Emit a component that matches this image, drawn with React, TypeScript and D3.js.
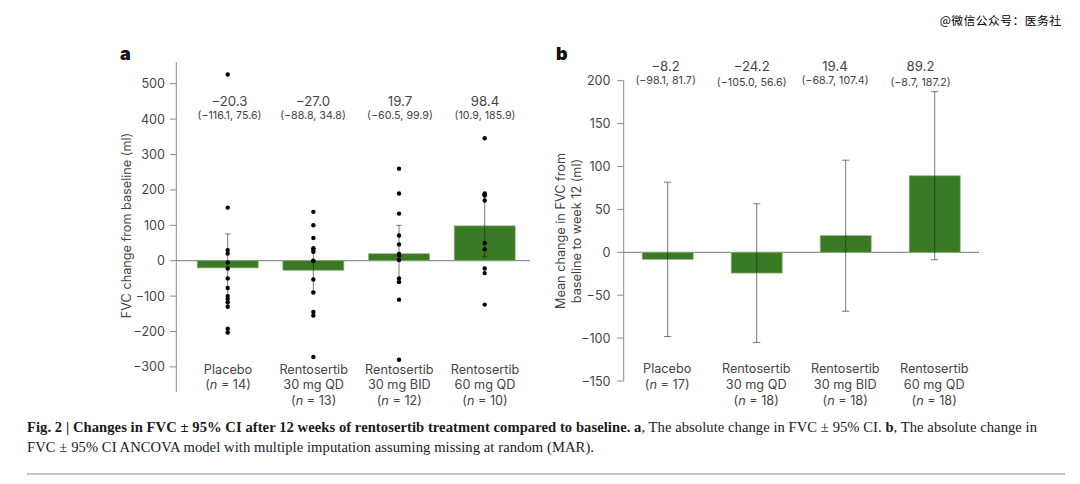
import React from "react";
import * as d3 from "d3";

const groupsA = ["Placebo", "Rentosertib|30 mg QD", "Rentosertib|30 mg BID", "Rentosertib|60 mg QD"];
const nA = [14, 13, 12, 10];
const meanA = [-20.3, -27.0, 19.7, 98.4];
const lowA = [-116.1, -88.8, -60.5, 10.9];
const highA = [75.6, 34.8, 99.9, 185.9];
const meanLabelsA = ["−20.3", "−27.0", "19.7", "98.4"];
const ciLabelsA = ["(−116.1, 75.6)", "(−88.8, 34.8)", "(−60.5, 99.9)", "(10.9, 185.9)"];
const dotsPlacebo = [526, 150, 30, 20, -5, -22, -50, -77, -100, -108, -118, -130, -192, -203];
const dots30QD = [138, 100, 64, 35, 30, 25, 0, -1, -53, -90, -145, -155, -272];
const dots30BID = [260, 190, 133, 71, 46, 19, 15, 2, -50, -60, -110, -280];
const dots60QD = [346, 190, 187, 184, 170, 50, 32, -22, -35, -124];
const dotsA = [dotsPlacebo, dots30QD, dots30BID, dots60QD];
const ticksA = [500, 400, 300, 200, 100, 0, -100, -200, -300];

const groupsB = groupsA;
const nB = [17, 18, 18, 18];
const meanB = [-8.2, -24.2, 19.4, 89.2];
const lowB = [-98.1, -105.0, -68.7, -8.7];
const highB = [81.7, 56.6, 107.4, 187.2];
const meanLabelsB = ["−8.2", "−24.2", "19.4", "89.2"];
const ciLabelsB = ["(−98.1, 81.7)", "(−105.0, 56.6)", "(−68.7, 107.4)", "(−8.7, 187.2)"];
const ticksB = [200, 150, 100, 50, 0, -50, -100, -150];

const GREEN = "#3b7a24";
const EDGE = "#8fb27f";
const TXT = "#444444";
const FONT = "Inter, Roboto, sans-serif";
const SERIF = "'Liberation Serif', serif";

const yA = d3.scaleLinear().domain([-300, 500]).range([366.9, 83.7]);
const yB = d3.scaleLinear().domain([-150, 200]).range([381, 80.7]);
const xA = d3.scalePoint<number>().domain([0, 1, 2, 3]).range([227.7, 484.7]);
const xB = d3.scalePoint<number>().domain([0, 1, 2, 3]).range([667.7, 934.7]);

function Cat({ x, ys, label, n }: { x: number; ys: number[]; label: string; n: number }) {
  const lines = label.split("|");
  return (
    <g textAnchor="middle" fontSize={12.7} fill={TXT} fontFamily={FONT} fontWeight={400}>
      {lines.map((l, i) => (
        <text key={l} x={x} y={ys[i]}>{l}</text>
      ))}
      <text x={x} y={ys[lines.length]}>
        (<tspan fontStyle="italic">n</tspan> = {n})
      </text>
    </g>
  );
}

function Bars({ x, y, mean, low, high, w, cap }: any) {
  return (
    <g>
      {mean.map((m: number, i: number) => {
        const cx = x(i);
        return (
          <rect key={i} x={cx - w / 2} width={w} y={Math.min(y(m), y(0))} height={Math.abs(y(m) - y(0))}
            fill={GREEN} stroke={EDGE} strokeWidth={0.7} />
        );
      })}
      {mean.map((_: number, i: number) => {
        const cx = x(i);
        return (
          <g key={i} stroke="#222" strokeOpacity={0.6} strokeWidth={1}>
            <line x1={cx} x2={cx} y1={y(low[i])} y2={y(high[i])} />
            <line x1={cx - cap} x2={cx + cap} y1={y(low[i])} y2={y(low[i])} />
            <line x1={cx - cap} x2={cx + cap} y1={y(high[i])} y2={y(high[i])} />
          </g>
        );
      })}
    </g>
  );
}

function Axis({ x, y, ticks, top, bottom, right, labelX }: any) {
  return (
    <g>
      <line x1={x} x2={x} y1={top} y2={bottom} stroke="#8a8a8a" strokeWidth={1} />
      {ticks.map((t: number) => (
        <g key={t}>
          <line x1={x - 6.5} x2={x} y1={y(t)} y2={y(t)} stroke="#8a8a8a" strokeWidth={1} />
          <text x={labelX} y={y(t) + 4.5} textAnchor="end" fontSize={12.6} fill={TXT} fontFamily={FONT} fontWeight={400}>
            {t < 0 ? `−${-t}` : t}
          </text>
        </g>
      ))}
      <line x1={x} x2={right} y1={y(0)} y2={y(0)} stroke="#777" strokeWidth={1} />
    </g>
  );
}

export default function App() {
  const labelXA = [229.5, 313, 400, 485];
  const labelXB = [665.6, 751.7, 835, 920.5];
  const ciYB = [84, 86, 83.5, 86];
  const catYA = [374, 389.3, 404.7];
  const catYB = [373, 389, 404.7];
  return (
    <svg width={1080} height={484} viewBox="0 0 1080 484" style={{ position: "absolute", left: 0, top: 0, background: "#fff" }}>
      <text x={1061.5} y={25} textAnchor="end" fontSize={11.8} letterSpacing={0.45} fill="#000" fontFamily="'Noto Sans CJK SC'">@微信公众号：医务社</text>

      <text x={120} y={60} fontSize={18} fontWeight={900} fill="#111" fontFamily={FONT}>a</text>
      <text x={556} y={60} fontSize={18} fontWeight={900} fill="#111" fontFamily={FONT}>b</text>

      <Axis x={176.3} y={yA} ticks={ticksA} top={62} bottom={392} right={530} labelX={165} />
      <Bars x={xA} y={yA} mean={meanA} low={lowA} high={highA} w={61} cap={2.6} />
      {dotsA.map((ds, i) =>
        ds.map((d, j) => <circle key={`${i}-${j}`} cx={xA(i)} cy={yA(d)} r={2.2} fill="#000" />)
      )}
      {meanLabelsA.map((l, i) => (
        <g key={l} textAnchor="middle" fill={TXT} fontFamily={FONT} fontWeight={400}>
          <text x={labelXA[i]} y={106} fontSize={13.2}>{l}</text>
          <text x={labelXA[i]} y={119} fontSize={10.7}>{ciLabelsA[i]}</text>
        </g>
      ))}
      {groupsA.map((g, i) => (
        <Cat key={g} x={xA(i)! + 0.3} ys={catYA} label={g} n={nA[i]} />
      ))}
      <text transform="translate(131,225.5) rotate(-90)" textAnchor="middle" fontSize={12.7} fill={TXT} fontFamily={FONT} fontWeight={400}>
        FVC change from baseline (ml)
      </text>

      <Axis x={623.7} y={yB} ticks={ticksB} top={80.7} bottom={381} right={979} labelX={610.5} />
      <Bars x={xB} y={yB} mean={meanB} low={lowB} high={highB} w={51} cap={3.6} />
      {meanLabelsB.map((l, i) => (
        <g key={l} textAnchor="middle" fill={TXT} fontFamily={FONT} fontWeight={400}>
          <text x={labelXB[i]} y={71} fontSize={13.2}>{l}</text>
          <text x={labelXB[i]} y={ciYB[i]} fontSize={10.7}>{ciLabelsB[i]}</text>
        </g>
      ))}
      {groupsB.map((g, i) => (
        <Cat key={g} x={xB(i)! - 0.5} ys={catYB} label={g} n={nB[i]} />
      ))}
      <g fontSize={12.7} fill={TXT} fontFamily={FONT} fontWeight={400} textAnchor="middle">
        <text transform="translate(565,231) rotate(-90)">Mean change in FVC from</text>
        <text transform="translate(581,231) rotate(-90)">baseline to week 12 (ml)</text>
      </g>

      <text x={27} y={431.5} fontSize={14.6} fill="#1a1a1a" fontFamily={SERIF} textLength={1010} lengthAdjust="spacing">
        <tspan fontWeight={700}>Fig. 2 | Changes in FVC  ±  95% CI after 12 weeks of rentosertib treatment compared to baseline. a</tspan>
        <tspan>, The absolute change in FVC ± 95% CI. </tspan>
        <tspan fontWeight={700}>b</tspan>
        <tspan>, The absolute change in</tspan>
      </text>
      <text x={27} y={452} fontSize={14.6} fill="#1a1a1a" fontFamily={SERIF} textLength={567} lengthAdjust="spacing">
        FVC ± 95% CI ANCOVA model with multiple imputation assuming missing at random (MAR).
      </text>
      <line x1={27} x2={1065} y1={474} y2={474} stroke="#888" strokeWidth={1} />
    </svg>
  );
}
